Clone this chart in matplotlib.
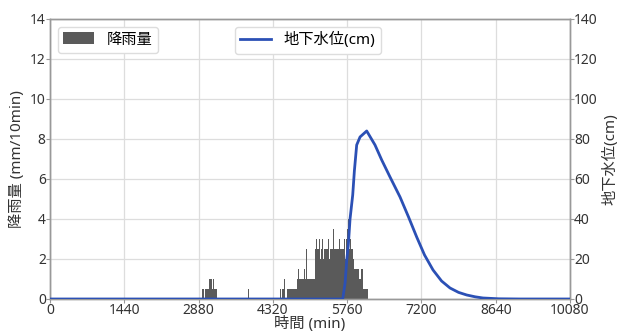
import numpy as np
import matplotlib.pyplot as plt

plt.rcParams['font.family'] = ['Noto Sans', 'Noto Sans CJK JP', 'DejaVu Sans']

# rainfall, 10-min bins (start time in min, mm/10min)
rain_single_t = [2730, 3840, 7690]
rain_single_v = [0.5, 0.5, 0.8]

rain_a_start = 2950
rain_a = [0.5, 0, 0.5, 0.5, 0, 0.5, 0.5, 0.5, 0.5, 0.5,
          0.5, 1.0, 0.5, 1.0, 1.0, 0.5, 1.0, 1.0, 1.0, 0.5,
          1.0, 1.0, 0.5, 0.5, 0.5, 0.5, 0, 0.5]

rain_b_start = 4460
rain_b = [0.5, 0.5, 0, 0.5, 0.5, 0.5, 0.5, 0.5, 1.0, 0.5,
          0, 0, 0, 0.5, 0.5, 0.5, 0.5, 0.5, 0.5, 0.5,
          0.5, 0.5, 0.5, 0.5, 0.5, 0.5, 0.5, 0.5, 0.5, 0.5,
          0.5, 0.5, 0.5, 1.0, 1.0, 1.5, 1.0, 1.0, 1.0, 1.0,
          1.0, 1.0, 1.5, 1.0, 1.0, 1.0, 2.5, 1.5, 1.0, 1.0,
          2.0, 2.5, 1.5, 1.0, 1.0, 1.0, 0.5, 1.0, 1.0, 1.5,
          1.0, 1.0, 1.0, 1.5, 1.0, 1.0, 1.0, 1.5, 2.5, 2.5,
          3.0, 2.5, 2.5, 3.0, 2.5, 2.5, 3.0, 2.5, 2.0, 2.5,
          2.5, 2.5, 3.0, 2.5, 2.0, 2.0, 2.5, 3.0, 2.5, 2.5,
          3.0, 2.5, 2.5, 3.0, 2.5, 2.0, 2.5, 2.5, 3.0, 2.5,
          2.5, 2.5, 2.0, 3.5, 2.5, 2.5, 3.0, 2.5, 2.5, 2.5,
          3.0, 2.5, 2.0, 2.5, 2.5, 3.0, 2.5, 2.5, 2.0, 2.5,
          2.5, 3.5, 2.5, 2.5, 3.0, 2.5, 2.0, 2.5, 3.0, 3.0,
          3.5, 4.5, 4.0, 3.0, 2.5, 2.5, 3.0, 2.5, 2.5, 2.0,
          2.5, 2.0, 2.0, 1.5, 1.5, 2.0, 1.5, 1.0, 1.5, 1.5,
          1.5, 2.0, 1.5, 1.0, 1.5, 1.0, 2.0, 1.5, 1.0, 1.5,
          1.0, 0.5, 1.0, 0.5, 0.5, 0.5, 0, 0.5, 0, 0.5]

# groundwater level (cm)
gw_t = [0, 5674, 5720, 5752, 5783, 5816, 5868, 5900, 5945, 6010,
        6139, 6300, 6430, 6591, 6785, 6950, 7108, 7260, 7425, 7590,
        7754, 7920, 8078, 8240, 8394, 8700, 9110, 10080]
gw_v = [0, 0, 8, 19.5, 27, 40, 52, 64, 77, 81,
        84, 77, 69.5, 61, 51, 41, 31, 22, 14.5, 9,
        5.5, 3.3, 2, 1.1, 0.5, 0.1, 0, 0]

rain_t = (rain_single_t
          + [rain_a_start + 10 * i for i in range(len(rain_a))]
          + [rain_b_start + 10 * i for i in range(len(rain_b))])
rain_v = rain_single_v + rain_a + rain_b

txt = '#333333'
fs = 11
tfs = 10
fig = plt.figure(figsize=(6.22, 3.31), dpi=100)
ax = fig.add_axes([0.0804, 0.0967, 0.836, 0.846])
ax.bar(rain_t, rain_v, width=10, align='edge', color='#5a5a5a', linewidth=0,
       label='降雨量', zorder=2)
ax.set_xlim(0, 10080)
ax.set_ylim(0, 14)
ax.set_xticks(np.arange(0, 10081, 1440))
ax.set_yticks(np.arange(0, 15, 2))
ax.grid(True, color='#dddddd', linewidth=0.9, zorder=0)
ax.set_axisbelow(True)
ax.set_xlabel('時間 (min)', fontsize=fs, color=txt)
ax.xaxis.set_label_coords(0.5, -0.062)
ax.set_ylabel('降雨量 (mm/10min)', fontsize=fs, color=txt, labelpad=4)
ax.tick_params(labelsize=tfs, colors=txt, length=3, color='#999999', pad=0)

ax2 = ax.twinx()
ax2.plot(gw_t, gw_v, color='#2b50b5', linewidth=2, label='地下水位(cm)', zorder=3)
ax2.set_ylim(0, 140)
ax2.set_yticks(np.arange(0, 141, 20))
ax2.set_ylabel('地下水位(cm)', fontsize=fs, color=txt, labelpad=3)
ax2.tick_params(labelsize=tfs, colors=txt, length=3, color='#999999', pad=0)

for a in (ax, ax2):
    for s in a.spines.values():
        s.set_color('#999999')
        s.set_linewidth(1)

leg_kw = dict(fontsize=fs, framealpha=1, edgecolor='#dddddd', handlelength=2.0,
              borderpad=0.35, handletextpad=0.85, borderaxespad=0)
ax.legend(loc='upper left', bbox_to_anchor=(0.015, 0.972), handleheight=0.85, **leg_kw)
ax2.legend(loc='upper left', bbox_to_anchor=(0.355, 0.972), **leg_kw)

fig.savefig('out.png', dpi=100)
